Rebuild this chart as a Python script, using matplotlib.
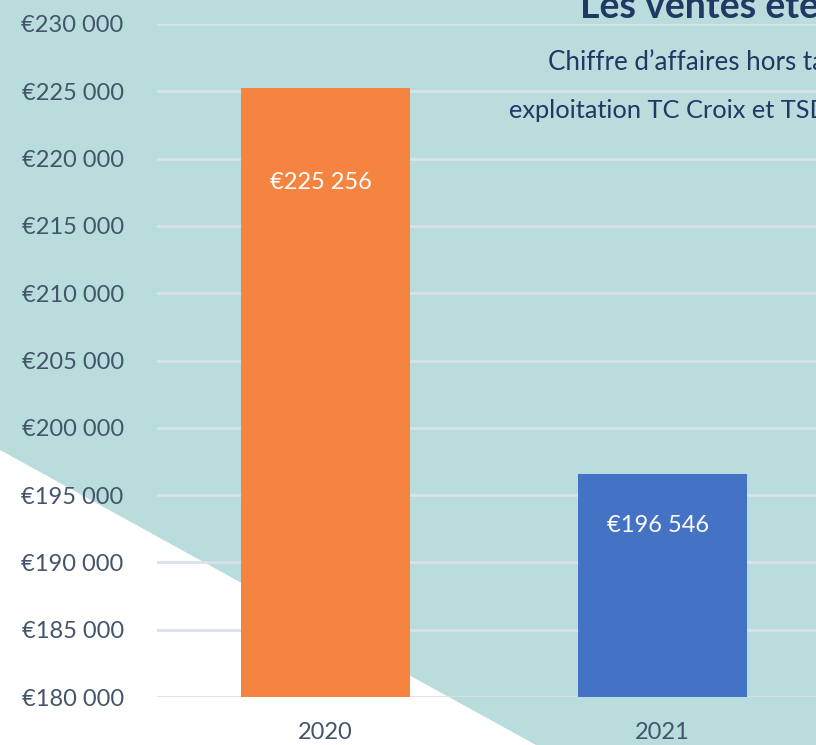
import matplotlib
matplotlib.use("Agg")
import matplotlib.pyplot as plt
import matplotlib.ticker as mtick
from matplotlib.patches import Polygon

# data
years = ["2020", "2021"]
sales = [225256, 196546]
bar_colors = ["#F4843F", "#4472C4"]
label_offsets = [-95, -51]  # px below bar top

plt.rcParams['font.family'] = ['Lato', 'DejaVu Sans']

W, H = 816, 745
fig = plt.figure(figsize=(W / 100, H / 100), dpi=100)
fig.patch.set_facecolor("#B9DDDD")

# white triangle, bottom left
tri = Polygon([(0, 1 - 450 / H), (0, 0), (536 / W, 0)], closed=True,
              transform=fig.transFigure, facecolor="white", edgecolor="none", zorder=-5)
fig.patches.append(tri)

ax = fig.add_axes([157 / W, 48 / H, 674 / W, 673 / H])
ax.set_facecolor("none")
ax.set_xlim(-0.5, 1.5)
ax.set_ylim(180000, 230000)
ax.yaxis.set_major_locator(mtick.MultipleLocator(5000))
ax.yaxis.set_major_formatter(mtick.FuncFormatter(lambda v, p: "€{:,.0f}".format(v).replace(",", " ")))

ax.set_axisbelow(True)
ax.grid(axis="y", color="#D9E1EA", linewidth=2)
for s in ax.spines.values():
    s.set_visible(False)
ax.tick_params(axis="both", length=0, labelsize=17, colors="#44546A")
ax.tick_params(axis="y", pad=24)
ax.tick_params(axis="x", pad=18)

x = range(len(years))
ax.bar(x, sales, width=0.5, color=bar_colors, zorder=2)
ax.set_xticks(list(x))
ax.set_xticklabels(years)

for i, v in enumerate(sales):
    ax.annotate("€{:,.0f}".format(v).replace(",", " "), (i, v), xytext=(-3, label_offsets[i] * 0.72),
                textcoords="offset points", ha="center", va="center", color="white", fontsize=17, zorder=3)

fig.text(580 / W, 1 - 18 / H, "Les ventes été", fontsize=27, fontweight="bold", color="#1F3864",
         ha="left", va="baseline")
fig.text(548 / W, 1 - 62 / H, "Chiffre d’affaires hors taxes", fontsize=18.7, color="#1F3864",
         ha="left", va="center")
fig.text(509 / W, 1 - 110 / H, "exploitation TC Croix et TSD", fontsize=18.3, color="#1F3864",
         ha="left", va="center")

fig.savefig("out.png", dpi=100, facecolor=fig.get_facecolor())
